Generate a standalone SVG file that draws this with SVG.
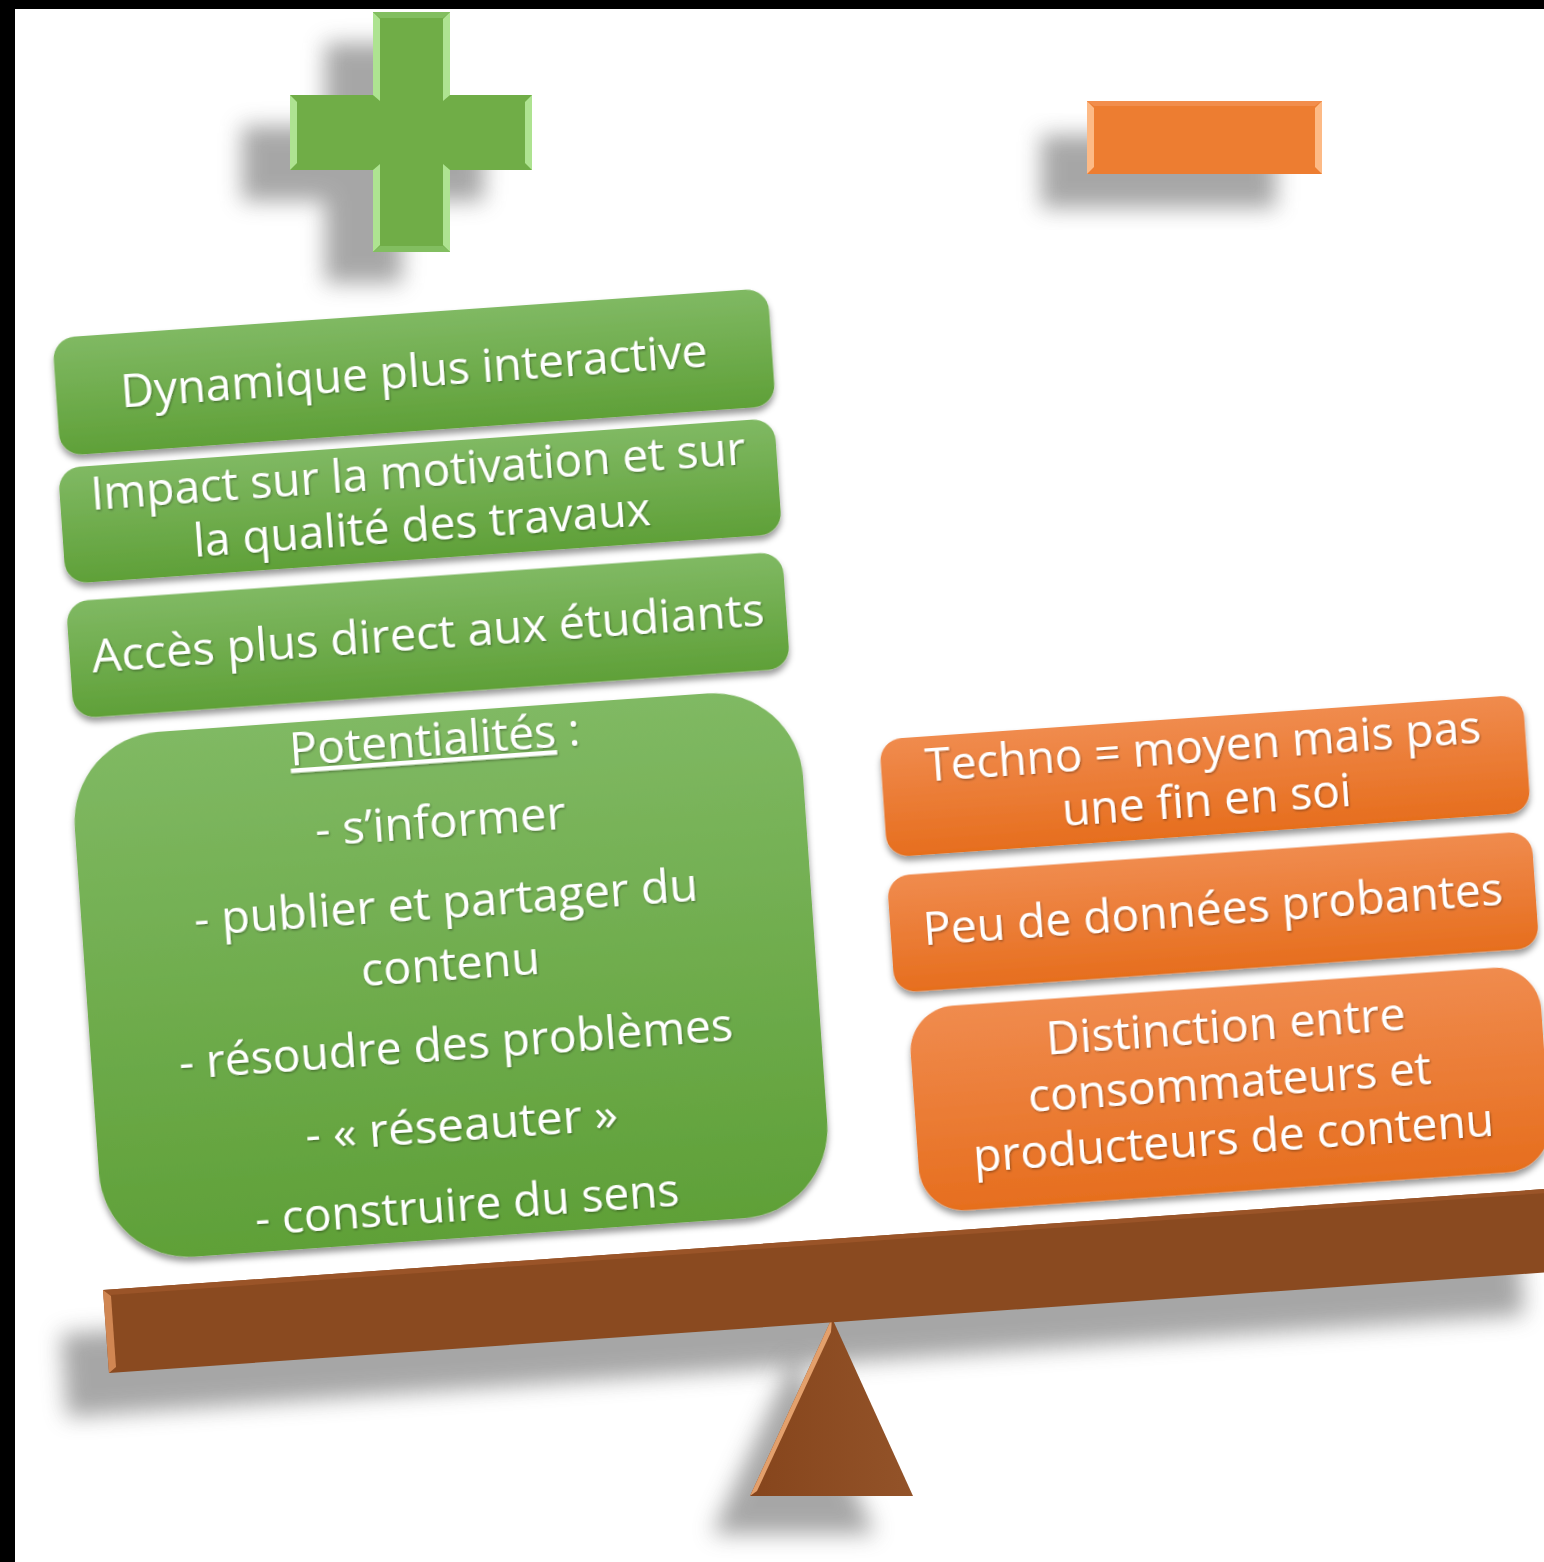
<svg xmlns="http://www.w3.org/2000/svg" width="1544" height="1562" viewBox="0 0 1544 1562">
<style>
.t{font-family:"Open Sans","Noto Sans","DejaVu Sans",sans-serif;font-size:46px;fill:#ffffff;text-anchor:middle;filter:url(#ts)}
.gbox{fill:url(#gG);filter:url(#bs)}
.obox{fill:url(#gO);filter:url(#bs)}
.shadow{fill:#5e5e5e;opacity:.55;filter:url(#blur)}
.gbev{fill:#AEE391}
.obev{fill:#FDBA86}
</style>
<defs>
<linearGradient id="gG" x1="0" y1="0" x2="0" y2="1">
<stop offset="0" stop-color="#80B963"/>
<stop offset="1" stop-color="#5FA038"/>
</linearGradient>
<linearGradient id="gO" x1="0" y1="0" x2="0" y2="1">
<stop offset="0" stop-color="#F08B4E"/>
<stop offset="1" stop-color="#E66E1E"/>
</linearGradient>
<linearGradient id="gF" x1="0" y1="0" x2="1" y2="0">
<stop offset="0" stop-color="#86451C"/>
<stop offset="1" stop-color="#935329"/>
</linearGradient>
<filter id="bs" x="-10%" y="-20%" width="120%" height="150%">
<feDropShadow dx="0" dy="5" stdDeviation="3" flood-color="#000" flood-opacity=".4"/>
</filter>
<filter id="ts" x="-5%" y="-30%" width="110%" height="160%">
<feDropShadow dx="1" dy="1.5" stdDeviation="1" flood-color="#000" flood-opacity=".35"/>
</filter>
<filter id="blur" x="-30%" y="-30%" width="160%" height="160%">
<feGaussianBlur stdDeviation="11"/>
</filter>
</defs>
<rect width="1544" height="1562" fill="#ffffff"/>
<rect x="0" y="0" width="1544" height="9" fill="#000"/>
<rect x="0" y="0" width="15" height="1562" fill="#000"/>

<g id="shadows">
<path class="shadow" d="M325 43H402V126H484V201H402V283H325V201H242V126H325Z"/>
<rect class="shadow" x="1041" y="135" width="235" height="73"/>
<polygon class="shadow" points="61,1334 1518,1232 1524,1315 67,1417"/>
<polygon class="shadow" points="794,1356 875,1534 712,1534"/>
</g>

<g id="plus">
<path d="M373 12H450V95H532V170H450V252H373V170H290V95H373Z" fill="#70AD47"/>
<polygon class="gbev" points="373,12 380,19 380,101 373,95"/>
<polygon class="gbev" points="450,12 443,19 443,101 450,95"/>
<polygon class="gbev" points="373,170 380,164 380,245 373,252"/>
<polygon class="gbev" points="450,170 443,164 443,245 450,252"/>
<polygon class="gbev" points="290,95 297,102 297,163 290,170"/>
<polygon class="gbev" points="532,95 525,102 525,163 532,170"/>
<polygon points="373,12 450,12 443,18 380,18" fill="#82BE60"/>
<polygon points="373,252 450,252 443,246 380,246" fill="#82BE60"/>
</g>

<g id="minus">
<rect x="1087" y="101" width="235" height="73" fill="#ED7D31"/>
<polygon class="obev" points="1087,101 1094,108 1094,167 1087,174"/>
<polygon class="obev" points="1322,101 1315,108 1315,167 1322,174"/>
<polygon points="1087,101 1322,101 1315,106 1094,106" fill="#F28D4C"/>
</g>

<g id="fulcrum">
<polygon points="832,1318 913,1496 750,1496" fill="url(#gF)"/>
<polygon points="832,1318 750,1496 757,1491 831,1332" fill="#E3A06C"/>
</g>

<g id="beam">
<polygon points="103,1290 1560,1188 1566,1271 109,1373" fill="#8A4A20"/>
<polygon points="103,1290 1560,1188 1560,1192 110,1295" fill="#9A5428"/>
<polygon points="103,1290 111,1296 116,1367 109,1373" fill="#D08652"/>
</g>

<g id="connectors"></g>

<g id="g1" transform="translate(414 372) rotate(-4)">
<rect class="gbox" x="-358.5" y="-59" width="717" height="118" rx="22"/>
<text class="t" x="0" y="15" textLength="588" lengthAdjust="spacingAndGlyphs">Dynamique plus interactive</text>
</g>

<g id="g2" transform="translate(420 501) rotate(-4)">
<rect class="gbox" x="-359" y="-58" width="718" height="116" rx="22"/>
<text class="t" x="0" y="-14" textLength="656" lengthAdjust="spacingAndGlyphs">Impact sur la motivation et sur</text>
<text class="t" x="0" y="40" textLength="458" lengthAdjust="spacingAndGlyphs">la qualité des travaux</text>
</g>

<g id="g3" transform="translate(428 635) rotate(-4)">
<rect class="gbox" x="-359" y="-58.5" width="718" height="117" rx="22"/>
<text class="t" x="0" y="14" textLength="674" lengthAdjust="spacingAndGlyphs">Accès plus direct aux étudiants</text>
</g>

<g id="g4" transform="translate(451 975) rotate(-4)">
<rect class="gbox" x="-365" y="-263" width="730" height="526" rx="90"/>
<text class="t" x="0" y="-220" textLength="291" lengthAdjust="spacingAndGlyphs"><tspan text-decoration="underline">Potentialités</tspan> :</text>
<text class="t" x="0" y="-138" textLength="251" lengthAdjust="spacingAndGlyphs">- s’informer</text>
<text class="t" x="0" y="-57" textLength="505" lengthAdjust="spacingAndGlyphs">- publier et partager du</text>
<text class="t" x="0" y="5" textLength="179" lengthAdjust="spacingAndGlyphs">contenu</text>
<text class="t" x="0" y="85" textLength="555" lengthAdjust="spacingAndGlyphs">- résoudre des problèmes</text>
<text class="t" x="0" y="166" textLength="313" lengthAdjust="spacingAndGlyphs">- « réseauter »</text>
<text class="t" x="0" y="246" textLength="425" lengthAdjust="spacingAndGlyphs">- construire du sens</text>
</g>

<g id="o1" transform="translate(1205 776) rotate(-4)">
<rect class="obox" x="-322.5" y="-59" width="645" height="118" rx="22"/>
<text class="t" x="0" y="-14" textLength="557" lengthAdjust="spacingAndGlyphs">Techno = moyen mais pas</text>
<text class="t" x="0" y="40" textLength="290" lengthAdjust="spacingAndGlyphs">une fin en soi</text>
</g>

<g id="o2" transform="translate(1213 912) rotate(-4)">
<rect class="obox" x="-323" y="-58.5" width="646" height="117" rx="22"/>
<text class="t" x="0" y="13" textLength="581" lengthAdjust="spacingAndGlyphs">Peu de données probantes</text>
</g>

<g id="o3" transform="translate(1230 1089) rotate(-4)">
<rect class="obox" x="-316" y="-102.5" width="632" height="205" rx="45"/>
<text class="t" x="0" y="-47" textLength="360" lengthAdjust="spacingAndGlyphs">Distinction entre</text>
<text class="t" x="0" y="9" textLength="404" lengthAdjust="spacingAndGlyphs">consommateurs et</text>
<text class="t" x="0" y="65" textLength="522" lengthAdjust="spacingAndGlyphs">producteurs de contenu</text>
</g>
</svg>
